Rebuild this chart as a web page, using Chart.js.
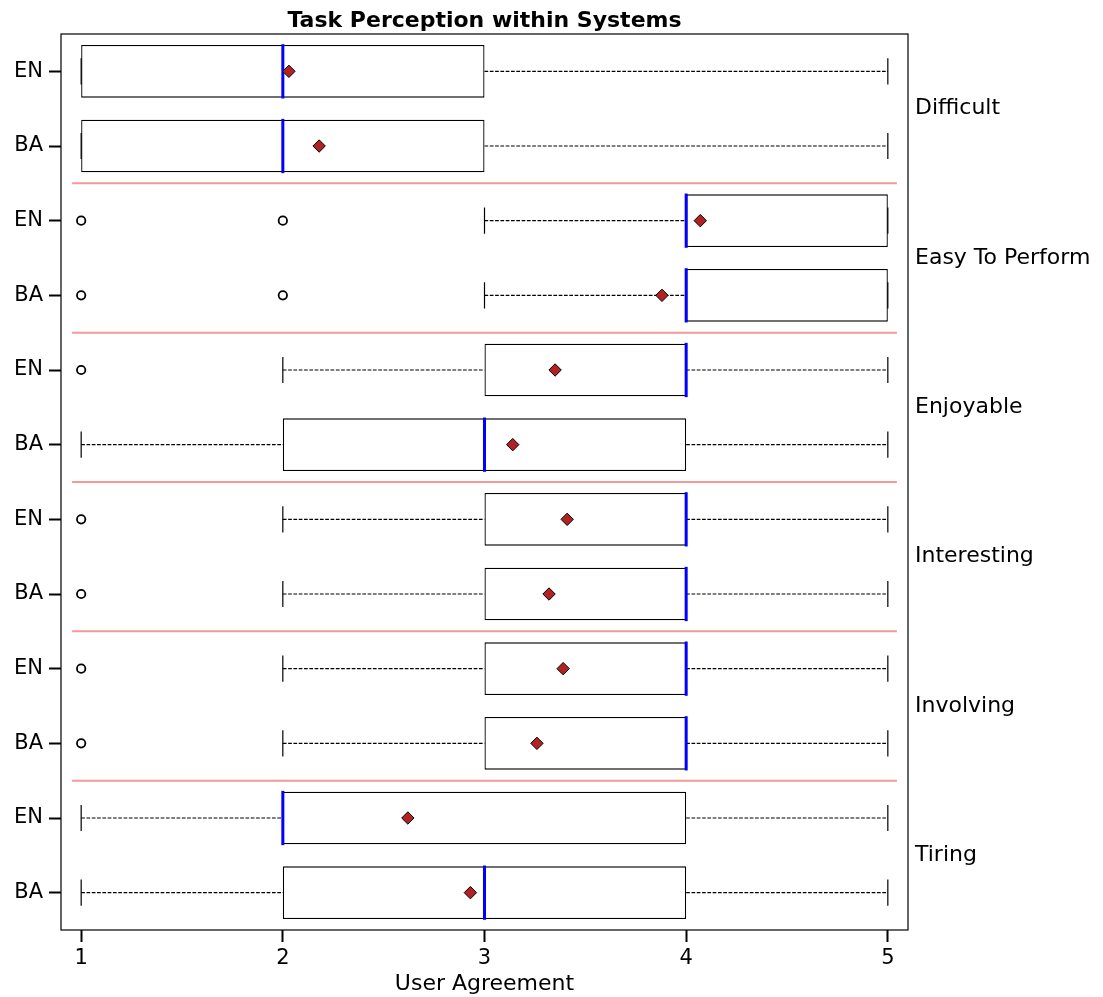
<!DOCTYPE html>
<html>
<head>
<meta charset="utf-8">
<script src="https://cdn.jsdelivr.net/npm/chart.js@4/dist/chart.umd.min.js"></script>
<style>
  html, body { margin: 0; padding: 0; background: #fff; }
  #wrap { width: 1103px; height: 997px; }
</style>
</head>
<body>
<div id="wrap"><canvas id="boxChart"></canvas></div>
<script>
// rows from top to bottom
const rowLabels   = ['EN', 'BA', 'EN', 'BA', 'EN', 'BA', 'EN', 'BA', 'EN', 'BA', 'EN', 'BA'];
const groupLabels = ['Difficult', 'Easy To Perform', 'Enjoyable', 'Interesting', 'Involving', 'Tiring'];

const q1          = [1, 1, 4, 4, 3, 2, 3, 3, 3, 3, 2, 2];
const q3          = [3, 3, 5, 5, 4, 4, 4, 4, 4, 4, 4, 4];
const medians     = [2, 2, 4, 4, 4, 3, 4, 4, 4, 4, 2, 3];
const whiskerLow  = [1, 1, 3, 3, 2, 1, 2, 2, 2, 2, 1, 1];
const whiskerHigh = [5, 5, 5, 5, 5, 5, 5, 5, 5, 5, 5, 5];
const means       = [2.03, 2.18, 4.07, 3.88, 3.35, 3.14, 3.41, 3.32, 3.39, 3.26, 2.62, 2.93];
const outliers    = [[], [], [1, 2], [1, 2], [1], [], [1], [1], [1], [1], [], []];

const xTickValues = [1, 2, 3, 4, 5];

const FONT = 'DejaVu Sans';

// whiskers, caps, medians and group separators
const boxExtras = {
  id: 'boxExtras',
  beforeDatasetsDraw(chart) {
    const { ctx, scales: { x, y } } = chart;
    ctx.save();
    ctx.strokeStyle = 'rgba(240,128,128,0.8)';
    ctx.lineWidth = 2;
    for (let i = 1; i < rowLabels.length - 1; i += 2) {
      const py = y.getPixelForValue(i + 0.5);
      ctx.beginPath();
      ctx.moveTo(x.getPixelForValue(0.955), py);
      ctx.lineTo(x.getPixelForValue(5.045), py);
      ctx.stroke();
    }
    ctx.restore();
  },
  afterDatasetDraw(chart, args) {
    if (args.index !== 0) return;
    const { ctx, scales: { x, y } } = chart;
    const step = y.getPixelForValue(1) - y.getPixelForValue(0);
    const half = step * 0.35;
    const cap = step * 0.175;
    ctx.save();
    rowLabels.forEach((_, i) => {
      const py = y.getPixelForValue(i);
      // whiskers
      ctx.strokeStyle = '#000';
      ctx.lineWidth = 1.2;
      ctx.setLineDash([3.7, 1.6]);
      ctx.beginPath();
      if (whiskerLow[i] < q1[i]) {
        ctx.moveTo(x.getPixelForValue(whiskerLow[i]), py);
        ctx.lineTo(x.getPixelForValue(q1[i]), py);
      }
      if (whiskerHigh[i] > q3[i]) {
        ctx.moveTo(x.getPixelForValue(q3[i]), py);
        ctx.lineTo(x.getPixelForValue(whiskerHigh[i]), py);
      }
      ctx.stroke();
      ctx.setLineDash([]);
      // caps
      ctx.beginPath();
      [whiskerLow[i], whiskerHigh[i]].forEach(v => {
        const px = x.getPixelForValue(v);
        ctx.moveTo(px, py - cap);
        ctx.lineTo(px, py + cap);
      });
      ctx.stroke();
      // median
      const mx = x.getPixelForValue(medians[i]);
      ctx.strokeStyle = '#0000ff';
      ctx.lineWidth = 3;
      ctx.lineCap = 'square';
      ctx.beginPath();
      ctx.moveTo(mx, py - half + 0.5);
      ctx.lineTo(mx, py + half - 0.5);
      ctx.stroke();
      ctx.lineCap = 'butt';
    });
    ctx.restore();
  },
  afterDraw(chart) {
    const { ctx, chartArea: a } = chart;
    ctx.save();
    ctx.strokeStyle = '#000';
    ctx.lineWidth = 1.2;
    ctx.strokeRect(a.left, a.top, a.right - a.left, a.bottom - a.top);
    ctx.restore();
  }
};

const outlierPoints = [];
outliers.forEach((vals, i) => vals.forEach(v => outlierPoints.push({ x: v, y: i })));

const chart = new Chart(document.getElementById('boxChart'), {
  type: 'bar',
  data: {
    labels: rowLabels,
    datasets: [
      {
        label: 'box',
        data: q1.map((v, i) => [v, q3[i]]),
        backgroundColor: '#ffffff',
        borderColor: '#000000',
        borderWidth: 1.3,
        borderSkipped: false,
        barPercentage: 0.705,
        categoryPercentage: 1,
        order: 3
      },
      {
        type: 'scatter',
        label: 'outliers',
        data: outlierPoints,
        parsing: false,
        xAxisID: 'x',
        yAxisID: 'y',
        pointStyle: 'circle',
        pointRadius: 4.2,
        pointBackgroundColor: 'rgba(255,255,255,0)',
        pointBorderColor: '#000',
        pointBorderWidth: 1.8,
        order: 2
      },
      {
        type: 'scatter',
        label: 'mean',
        data: means.map((v, i) => ({ x: v, y: i })),
        parsing: false,
        xAxisID: 'x',
        yAxisID: 'y',
        pointStyle: 'rectRot',
        pointRadius: 6.2,
        pointBackgroundColor: '#b22222',
        pointBorderColor: '#000',
        pointBorderWidth: 1,
        order: 1
      }
    ]
  },
  options: {
    indexAxis: 'y',
    responsive: true,
    maintainAspectRatio: false,
    animation: false,
    layout: { padding: 0 },
    plugins: {
      legend: { display: false },
      tooltip: { enabled: false },
      title: {
        display: true,
        text: 'Task Perception within Systems',
        fullSize: false,
        color: '#000',
        font: { family: FONT, size: 22, weight: 'bold', lineHeight: 1.2 },
        padding: { top: 7.6, bottom: 0 }
      }
    },
    scales: {
      x: {
        type: 'linear',
        position: 'bottom',
        min: 0.9,
        max: 5.1,
        afterBuildTicks: s => { s.ticks = xTickValues.map(v => ({ value: v })); },
        afterFit: s => { s.height = 67; },
        grid: { drawOnChartArea: false, drawTicks: true, tickLength: 12, tickWidth: 2, tickColor: '#000' },
        border: { display: false },
        ticks: { color: '#000', padding: 4, font: { family: FONT, size: 21 } },
        title: {
          display: true,
          text: 'User Agreement',
          color: '#000',
          font: { family: FONT, size: 22 },
          padding: { top: 0, bottom: 0 }
        }
      },
      y: {
        type: 'category',
        position: 'left',
        offset: true,
        afterFit: s => { s.width = 61; },
        grid: { drawOnChartArea: false, drawTicks: true, tickLength: 12, tickWidth: 2, tickColor: '#000', offset: false },
        border: { display: false },
        ticks: { color: '#000', padding: 6, font: { family: FONT, size: 21 } }
      },
      y2: {
        type: 'category',
        position: 'right',
        labels: groupLabels,
        offset: true,
        afterFit: s => { s.width = 195; },
        grid: { display: false, drawTicks: false },
        border: { display: false },
        ticks: { color: '#000', padding: 7, font: { family: FONT, size: 22 } }
      }
    }
  },
  plugins: [boxExtras]
});
</script>
</body>
</html>
